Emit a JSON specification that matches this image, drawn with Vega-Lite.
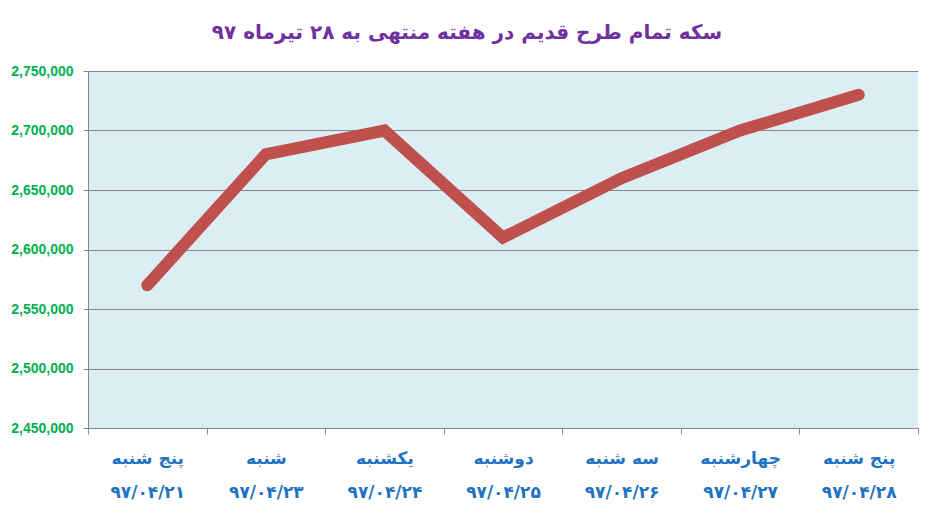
{
  "$schema": "https://vega.github.io/schema/vega-lite/v6.json",
  "width": 830,
  "height": 357,
  "autosize": {"type": "none"},
  "padding": {"left": 88, "top": 71, "right": 16, "bottom": 90},
  "background": "white",
  "title": {
    "text": "سکه تمام طرح قدیم در هفته منتهی به ۲۸ تیرماه ۹۷",
    "font": "DejaVu Sans",
    "fontSize": 20,
    "fontWeight": "bold",
    "color": "#7030A0",
    "anchor": "middle",
    "dx": -36,
    "offset": 21
  },
  "data": {
    "values": [
      {"day": "پنج شنبه|۹۷/۰۴/۲۱", "price": 2570000},
      {"day": "شنبه|۹۷/۰۴/۲۳", "price": 2680000},
      {"day": "یکشنبه|۹۷/۰۴/۲۴", "price": 2700000},
      {"day": "دوشنبه|۹۷/۰۴/۲۵", "price": 2610000},
      {"day": "سه شنبه|۹۷/۰۴/۲۶", "price": 2660000},
      {"day": "چهارشنبه|۹۷/۰۴/۲۷", "price": 2700000},
      {"day": "پنج شنبه |۹۷/۰۴/۲۸", "price": 2730000}
    ]
  },
  "mark": {
    "type": "line",
    "color": "#C0504D",
    "strokeWidth": 12,
    "strokeCap": "round",
    "strokeJoin": "miter"
  },
  "encoding": {
    "x": {
      "field": "day",
      "type": "ordinal",
      "sort": null,
      "scale": {"type": "band", "paddingInner": 0, "paddingOuter": 0},
      "axis": {
        "title": null,
        "labelAngle": 0,
        "tickBand": "extent",
        "labelExpr": "datum.value ? split(datum.value, '|') : ''",
        "labelFont": "DejaVu Sans",
        "labelFontSize": 17,
        "labelFontWeight": "bold",
        "labelColor": "#1F73C2",
        "labelLineHeight": 34,
        "labelPadding": 24,
        "labelBaseline": "middle",
        "domainColor": "#888888",
        "tickColor": "#888888",
        "tickSize": 6,
        "grid": false
      }
    },
    "y": {
      "field": "price",
      "type": "quantitative",
      "scale": {"domain": [2450000, 2750000], "nice": false, "zero": false},
      "axis": {
        "title": null,
        "values": [2450000, 2500000, 2550000, 2600000, 2650000, 2700000, 2750000],
        "format": ",.0f",
        "labelFont": "Liberation Sans Narrow, Liberation Sans",
        "labelFontSize": 14,
        "labelFontWeight": "bold",
        "labelColor": "#00B050",
        "labelPadding": 10,
        "tickSize": 5,
        "tickColor": "#888888",
        "domainColor": "#888888",
        "gridColor": "#888888",
        "gridOpacity": 1
      }
    }
  },
  "config": {
    "view": {"fill": "#DBEEF3", "stroke": null}
  }
}
